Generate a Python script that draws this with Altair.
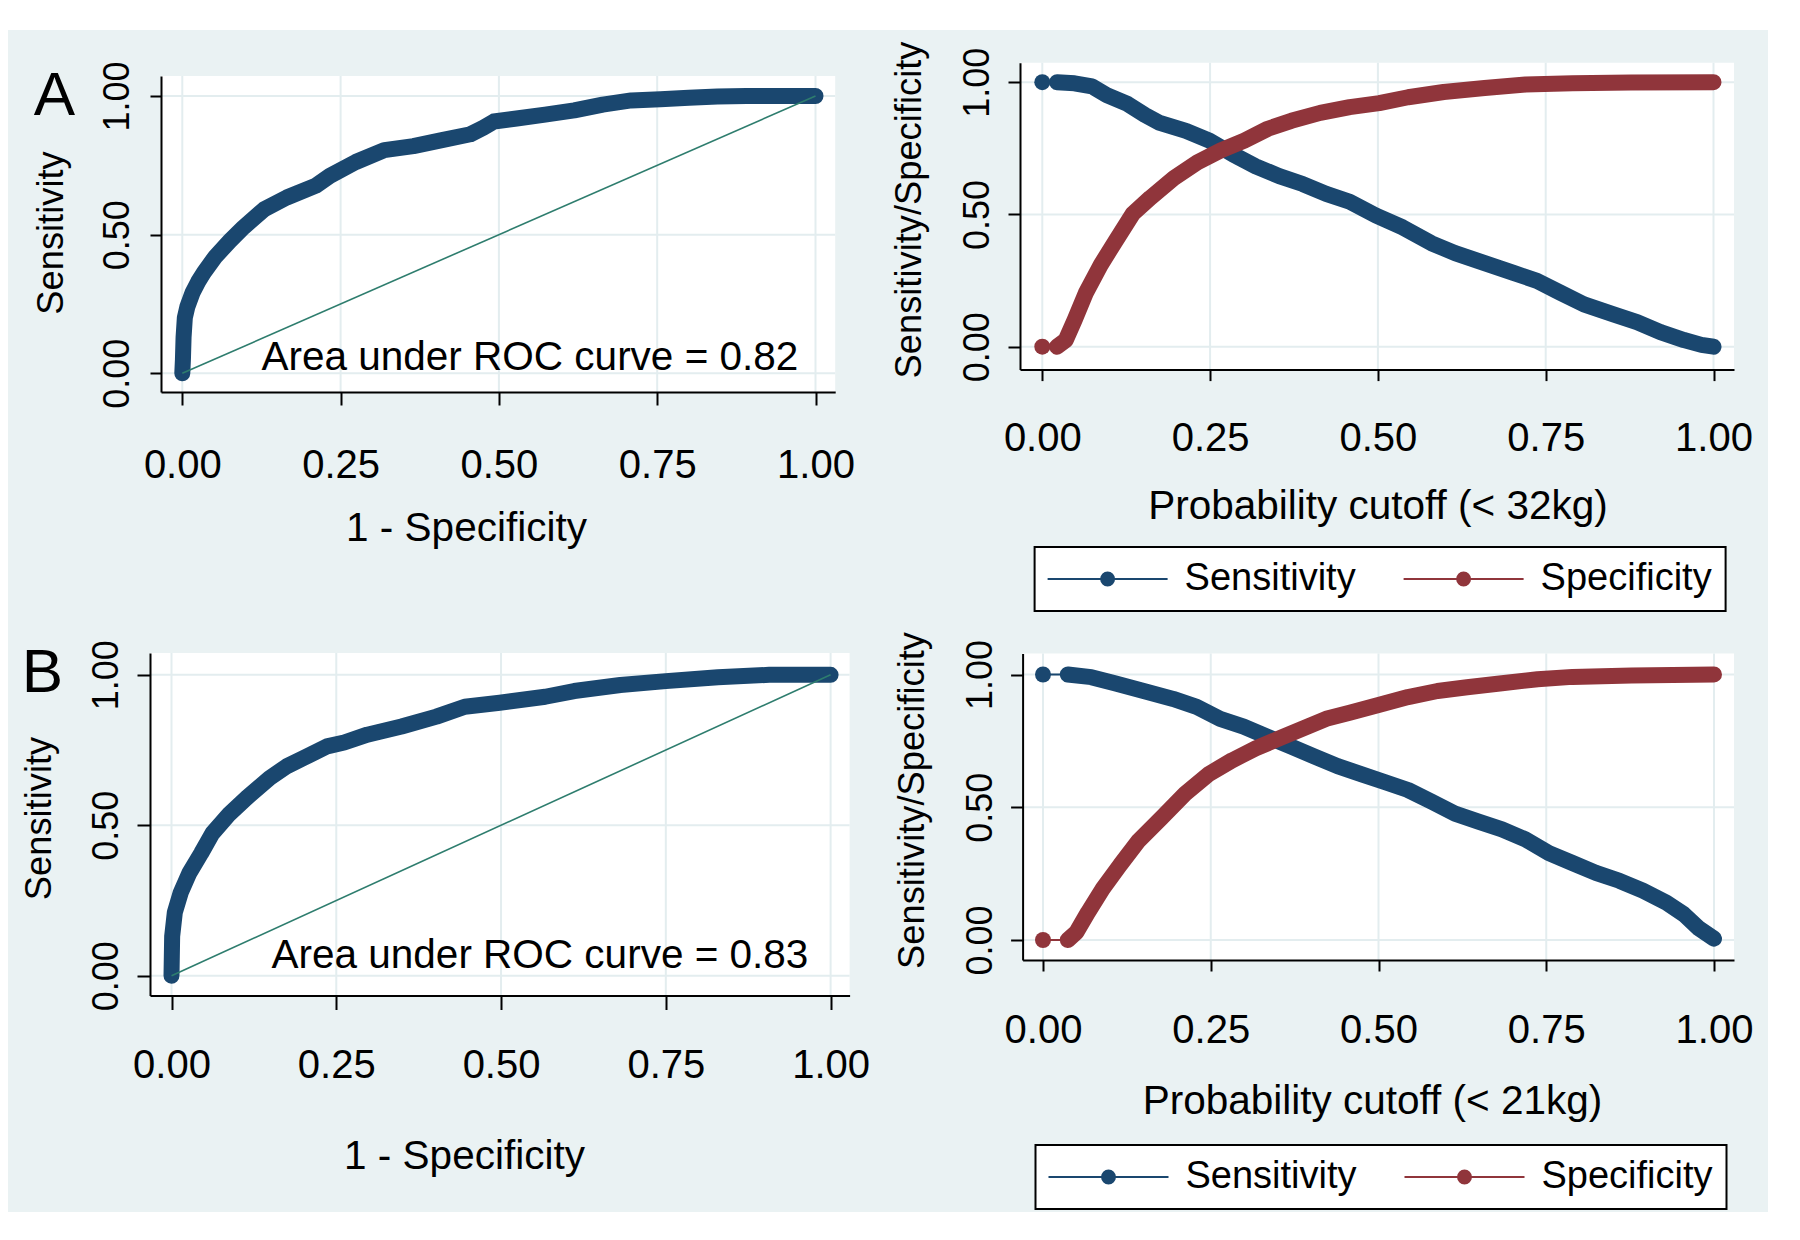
import math
import altair as alt
import pandas as pd

# ---------------- data ----------------
X_TICKS = [0.0, 0.25, 0.5, 0.75, 1.0]
Y_TICKS = [0.0, 0.5, 1.0]
SERIES = ["Sensitivity", "Specificity"]

# Panel A - ROC (1 - specificity, sensitivity)
roc_a_fpr = [0.000, 0.001, 0.002, 0.004, 0.008, 0.016, 0.025, 0.034, 0.052, 0.075, 0.097,
             0.129, 0.165, 0.211, 0.233, 0.274, 0.319, 0.365, 0.410, 0.455, 0.475, 0.492,
             0.528, 0.573, 0.619, 0.664, 0.709, 0.755, 0.800, 0.845, 0.891, 0.950, 1.000]
roc_a_sens = [0.000, 0.050, 0.130, 0.200, 0.240, 0.290, 0.330, 0.363, 0.420, 0.477, 0.527,
              0.591, 0.634, 0.677, 0.712, 0.762, 0.805, 0.819, 0.841, 0.862, 0.885, 0.908,
              0.919, 0.933, 0.948, 0.969, 0.984, 0.988, 0.994, 0.998, 1.000, 1.000, 1.000]
auc_a_text = "Area under ROC curve = 0.82"

# Panel B - ROC
roc_b_fpr = [0.000, 0.001, 0.005, 0.014, 0.027, 0.045, 0.062, 0.088, 0.114, 0.149, 0.175,
             0.200, 0.236, 0.262, 0.297, 0.349, 0.402, 0.445, 0.498, 0.567, 0.611, 0.681,
             0.750, 0.829, 0.907, 1.000]
roc_b_sens = [0.000, 0.131, 0.210, 0.276, 0.341, 0.407, 0.473, 0.538, 0.591, 0.657, 0.696,
              0.723, 0.762, 0.775, 0.801, 0.828, 0.861, 0.894, 0.907, 0.927, 0.946, 0.966,
              0.979, 0.992, 1.000, 1.000]
auc_b_text = "Area under ROC curve = 0.83"

# Panel A - sensitivity / specificity vs probability cutoff (< 32kg)
cut_a_sens_x = [0.000, 0.022, 0.048, 0.074, 0.096, 0.127, 0.153, 0.175, 0.214, 0.249, 0.284,
                0.318, 0.353, 0.388, 0.423, 0.458, 0.497, 0.537, 0.580, 0.615, 0.659, 0.702,
                0.737, 0.772, 0.807, 0.851, 0.886, 0.921, 0.956, 0.982, 1.000]
cut_a_sens_y = [1.000, 1.000, 0.996, 0.984, 0.951, 0.918, 0.876, 0.846, 0.816, 0.779, 0.727,
                0.682, 0.645, 0.615, 0.578, 0.548, 0.496, 0.451, 0.391, 0.354, 0.316, 0.279,
                0.249, 0.204, 0.160, 0.122, 0.093, 0.055, 0.025, 0.007, 0.000]
cut_a_spec_x = [0.000, 0.022, 0.035, 0.048, 0.065, 0.087, 0.109, 0.135, 0.161, 0.196, 0.231,
                0.266, 0.301, 0.336, 0.371, 0.414, 0.458, 0.502, 0.545, 0.598, 0.659, 0.720,
                0.790, 0.877, 1.000]
cut_a_spec_y = [0.000, 0.000, 0.025, 0.100, 0.204, 0.309, 0.399, 0.503, 0.563, 0.637, 0.697,
                0.742, 0.779, 0.824, 0.854, 0.884, 0.906, 0.921, 0.943, 0.963, 0.978, 0.991,
                0.996, 0.999, 1.000]

# Panel B - sensitivity / specificity vs probability cutoff (< 21kg)
cut_b_sens_x = [0.000, 0.037, 0.072, 0.107, 0.150, 0.194, 0.229, 0.264, 0.299, 0.334, 0.369,
                0.404, 0.439, 0.474, 0.509, 0.544, 0.579, 0.614, 0.649, 0.684, 0.719, 0.754,
                0.789, 0.824, 0.859, 0.894, 0.929, 0.955, 0.977, 1.000]
cut_b_sens_y = [1.000, 1.000, 0.990, 0.967, 0.938, 0.908, 0.878, 0.833, 0.804, 0.766, 0.729,
                0.692, 0.655, 0.625, 0.595, 0.565, 0.521, 0.476, 0.446, 0.417, 0.379, 0.327,
                0.290, 0.253, 0.223, 0.186, 0.141, 0.097, 0.045, 0.005]
cut_b_spec_x = [0.000, 0.037, 0.050, 0.067, 0.089, 0.115, 0.142, 0.177, 0.212, 0.247, 0.282,
                0.317, 0.352, 0.387, 0.422, 0.457, 0.500, 0.544, 0.588, 0.632, 0.684, 0.737,
                0.789, 0.877, 1.000]
cut_b_spec_y = [0.000, 0.000, 0.030, 0.104, 0.193, 0.283, 0.372, 0.461, 0.551, 0.625, 0.677,
                0.722, 0.759, 0.796, 0.833, 0.856, 0.885, 0.915, 0.938, 0.952, 0.967, 0.982,
                0.991, 0.996, 1.000]

diag_x = [0.0, 1.0]
diag_y = [0.0, 1.0]

panel_letters = ["A", "B"]
x_title_roc = "1 - Specificity"
y_title_roc = "Sensitivity"
x_title_cut_a = "Probability cutoff (< 32kg)"
x_title_cut_b = "Probability cutoff (< 21kg)"
y_title_cut = "Sensitivity/Specificity"

# ---------------- styles / layout ----------------
NAVY = "#1A476F"
MAROON = "#90353B"
DIAG = "#2E7D6E"
BG = "#EAF2F3"
GRID = "#E3EDEF"
FONT = "Liberation Sans"
BAND = 16
OX, OY = 8, 30          # page position of the view origin
W, H = 1760, 1182       # view size

LAYOUT = {
    "AL": dict(box=(161, 835.2, 76, 392), xt=(182.3, 815.5), yt=(373.3, 96.0),
               xtick=13, ytick=11, xlab=477, xtit=(466, 540.5), ylab=128, ytit=(62, 232.5),
               auc=(0.549, 0.0134), letter=(54.5, 115)),
    "AR": dict(box=(1020, 1734, 62.7, 369.6), xt=(1042.3, 1713.5), yt=(346.7, 82.2),
               xtick=11, ytick=12, xlab=450.6, xtit=(1377.5, 518.5), ylab=988, ytit=(920, 209.5),
               legend=(1034.6, 547)),
    "BL": dict(box=(150, 849.6, 653, 995.5), xt=(171.5, 830.6), yt=(975.7, 674.8),
               xtick=14, ytick=13, xlab=1077.5, xtit=(464, 1168.5), ylab=117, ytit=(50.5, 818),
               auc=(0.559, 0.026), letter=(42.5, 692)),
    "BR": dict(box=(1022.6, 1734, 653.6, 960), xt=(1043, 1714), yt=(940, 674.5),
               xtick=11, ytick=12, xlab=1042.3, xtit=(1372, 1113), ylab=991.5, ytit=(923, 800),
               legend=(1035.5, 1145)),
}


def domains(lay):
    L, R, T, B = lay["box"]
    x0, x1 = lay["xt"]
    y0, y1 = lay["yt"]
    return ((L - x0) / (x1 - x0), (R - x0) / (x1 - x0),
            (B - y0) / (y1 - y0), (T - y0) / (y1 - y0))


def scales(lay):
    L, R, T, B = lay["box"]
    dx0, dx1, dy0, dy1 = domains(lay)
    xs = alt.Scale(domain=[dx0, dx1], range=[L - OX, R - OX], nice=False, zero=False)
    ys = alt.Scale(domain=[dy0, dy1], range=[B - OY, T - OY], nice=False, zero=False)
    return xs, ys


def x_axis(lay, title):
    L, R, T, B = lay["box"]
    return alt.Axis(
        orient="bottom", offset=(B - OY) - H, values=X_TICKS, format=".2f", grid=False,
        domainColor="black", domainWidth=2, tickColor="black", tickWidth=2, tickSize=lay["xtick"],
        labelFont=FONT, labelFontSize=40, labelColor="black", labelAngle=0,
        labelAlign="center", labelBaseline="alphabetic",
        labelPadding=lay["xlab"] - B - lay["xtick"], labelFlush=False, labelOverlap=False,
        title=title, titleFont=FONT, titleFontSize=40.5, titleFontWeight="normal",
        titleColor="black", titleAngle=0, titleAlign="center", titleBaseline="alphabetic",
        titleX=lay["xtit"][0] - OX, titleY=lay["xtit"][1] - B, zindex=1)


def y_axis(lay, title):
    L, R, T, B = lay["box"]
    return alt.Axis(
        orient="left", offset=-(L - OX), values=Y_TICKS, format=".2f", grid=False,
        domainColor="black", domainWidth=2, tickColor="black", tickWidth=2, tickSize=lay["ytick"],
        labelFont=FONT, labelFontSize=36, labelColor="black", labelAngle=270,
        labelAlign="center", labelBaseline="alphabetic",
        labelPadding=(L - lay["ylab"]) - lay["ytick"], labelFlush=False, labelOverlap=False,
        title=title, titleFont=FONT, titleFontSize=36.3, titleFontWeight="normal",
        titleColor="black", titleAngle=270, titleAlign="center", titleBaseline="alphabetic",
        titleX=lay["ytit"][0] - L, titleY=lay["ytit"][1] - OY, zindex=1)


def frame_layers(lay, xtitle, ytitle):
    xs, ys = scales(lay)
    dx0, dx1, dy0, dy1 = domains(lay)
    rect = alt.Chart(pd.DataFrame({"x": [dx0], "x2": [dx1], "y": [dy0], "y2": [dy1]})).mark_rect(
        color="white").encode(
        x=alt.X("x:Q", scale=xs, axis=x_axis(lay, xtitle)), x2="x2:Q",
        y=alt.Y("y:Q", scale=ys, axis=y_axis(lay, ytitle)), y2="y2:Q")
    vgrid = alt.Chart(pd.DataFrame({"x": X_TICKS, "y": [dy0] * len(X_TICKS),
                                    "y2": [dy1] * len(X_TICKS)})).mark_rule(
        color=GRID, strokeWidth=2).encode(
        x=alt.X("x:Q", scale=xs, axis=None), y=alt.Y("y:Q", scale=ys, axis=None), y2="y2:Q")
    hgrid = alt.Chart(pd.DataFrame({"y": Y_TICKS, "x": [dx0] * len(Y_TICKS),
                                    "x2": [dx1] * len(Y_TICKS)})).mark_rule(
        color=GRID, strokeWidth=2).encode(
        y=alt.Y("y:Q", scale=ys, axis=None), x=alt.X("x:Q", scale=xs, axis=None), x2="x2:Q")
    return xs, ys, [rect, vgrid, hgrid]


def roc_panel(key, fpr, sens, auc_text, letter):
    lay = LAYOUT[key]
    xs, ys, layers = frame_layers(lay, x_title_roc, y_title_roc)
    df = pd.DataFrame({"x": fpr, "y": sens, "i": list(range(len(fpr)))})
    curve = alt.Chart(df).mark_line(color=NAVY, strokeWidth=BAND, strokeCap="round",
                                    strokeJoin="round").encode(
        x=alt.X("x:Q", scale=xs, axis=None), y=alt.Y("y:Q", scale=ys, axis=None), order="i:Q")
    diag = alt.Chart(pd.DataFrame({"x": diag_x, "y": diag_y})).mark_line(
        color=DIAG, strokeWidth=1.6).encode(
        x=alt.X("x:Q", scale=xs, axis=None), y=alt.Y("y:Q", scale=ys, axis=None))
    ax, ay = lay["auc"]
    auc = alt.Chart(pd.DataFrame({"x": [ax], "y": [ay], "t": [auc_text]})).mark_text(
        font=FONT, fontSize=40.5, color="black", align="center", baseline="alphabetic").encode(
        x=alt.X("x:Q", scale=xs, axis=None), y=alt.Y("y:Q", scale=ys, axis=None), text="t:N")
    lx, ly = lay["letter"]
    let = alt.Chart(pd.DataFrame({"t": [letter]})).mark_text(
        font=FONT, fontSize=62, color="black", align="center", baseline="alphabetic").encode(
        x=alt.value(lx - OX), y=alt.value(ly - OY), text="t:N")
    return layers + [curve, diag, auc, let]


# legend symbol: thin line with a round marker in the middle (unit = 19 px)
SYM_UNIT = 19.0
def legend_symbol():
    left, right, cx, r, hh = -19 / SYM_UNIT, 101 / SYM_UNIT, 41 / SYM_UNIT, 7.5 / SYM_UNIT, 1 / SYM_UNIT
    p = f"M{left:.4f},{-hh:.4f}L{right:.4f},{-hh:.4f}L{right:.4f},{hh:.4f}L{left:.4f},{hh:.4f}Z"
    pts = []
    for k in range(16):
        a = 2 * math.pi * k / 16
        pts.append(f"{cx + r * math.cos(a):.4f},{r * math.sin(a):.4f}")
    p += "M" + "L".join(pts) + "Z"
    return p


def cut_panel(key, sx, sy, px, py, xtitle):
    lay = LAYOUT[key]
    xs, ys, layers = frame_layers(lay, xtitle, y_title_cut)
    df = pd.concat([
        pd.DataFrame({"x": sx, "y": sy, "s": SERIES[0], "i": list(range(len(sx)))}),
        pd.DataFrame({"x": px, "y": py, "s": SERIES[1], "i": list(range(len(px)))}),
    ], ignore_index=True)
    cs = alt.Scale(domain=SERIES, range=[NAVY, MAROON])
    X = alt.X("x:Q", scale=xs, axis=None)
    Y = alt.Y("y:Q", scale=ys, axis=None)
    thin = alt.Chart(df).mark_line(strokeWidth=2).encode(
        x=X, y=Y, color=alt.Color("s:N", scale=cs, legend=None), order="i:Q")
    thick = alt.Chart(df).transform_filter("datum.i > 0").mark_line(
        strokeWidth=BAND, strokeCap="round", strokeJoin="round").encode(
        x=X, y=Y, color=alt.Color("s:N", scale=cs, legend=None), order="i:Q")
    lgx, lgy = lay["legend"]
    pts = alt.Chart(df).transform_filter("datum.i == 0").mark_circle(size=BAND * BAND, opacity=1).encode(
        x=X, y=Y,
        color=alt.Color("s:N", scale=cs, legend=alt.Legend(
            orient="none", legendX=lgx - OX, legendY=lgy - OY, direction="horizontal",
            title=None, symbolType=legend_symbol(), symbolSize=SYM_UNIT * SYM_UNIT * 4,
            symbolStrokeWidth=0, symbolOpacity=1, labelFont=FONT, labelFontSize=38,
            labelColor="black", labelOffset=99, labelLimit=500, columnPadding=47,
            padding=13, strokeColor="black", fillColor="white", zindex=2)))
    return layers + [thin, thick, pts]


units = (roc_panel("AL", roc_a_fpr, roc_a_sens, auc_a_text, panel_letters[0])
         + cut_panel("AR", cut_a_sens_x, cut_a_sens_y, cut_a_spec_x, cut_a_spec_y, x_title_cut_a)
         + roc_panel("BL", roc_b_fpr, roc_b_sens, auc_b_text, panel_letters[1])
         + cut_panel("BR", cut_b_sens_x, cut_b_sens_y, cut_b_spec_x, cut_b_spec_y, x_title_cut_b))

chart = alt.layer(*units).resolve_scale(
    x="independent", y="independent", color="independent"
).properties(
    width=W, height=H,
    padding={"top": OY - 8, "left": OX - 8, "right": 0, "bottom": 0},
    autosize=alt.AutoSizeParams(type="none"),
    background="white",
).configure_view(
    fill=BG, stroke="transparent", strokeWidth=0
).configure_legend(
    strokeWidth=2
)

chart.save("out.html", embed_options={"renderer": "svg", "actions": False})
